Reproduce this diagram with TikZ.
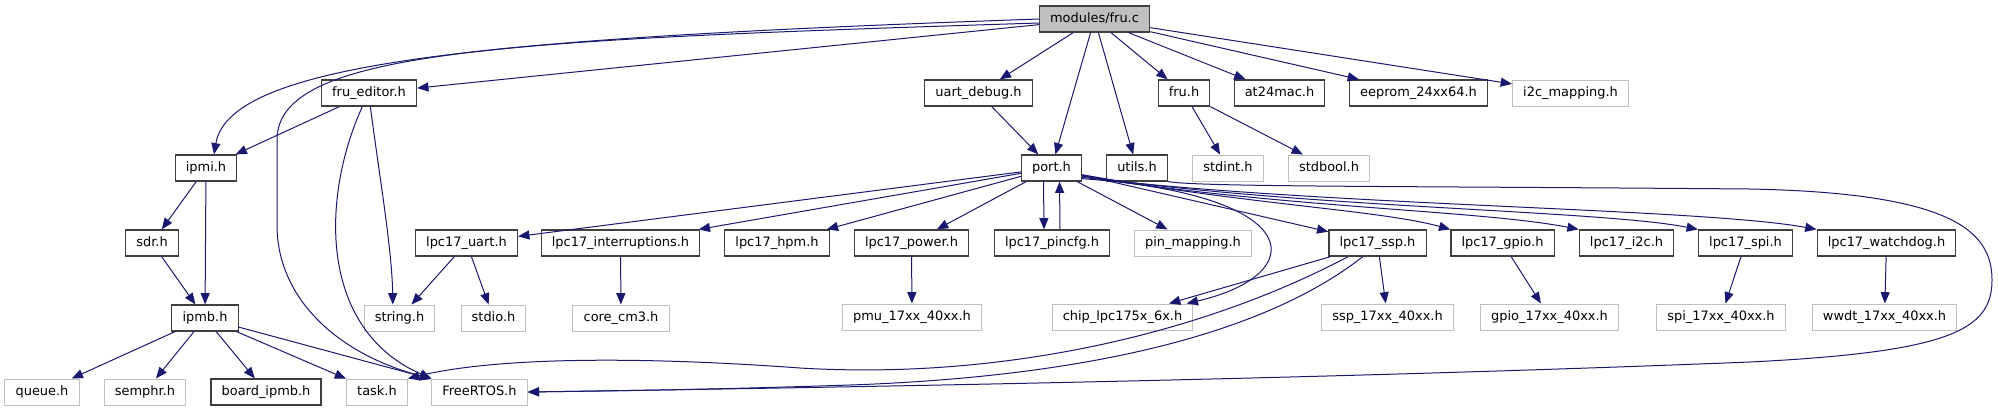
\documentclass[tikz,border=0pt]{standalone}
\usepackage{fontspec}
\setmainfont{DejaVu Sans}
\usepackage{xcolor}
\usepackage{tikz}
\definecolor{depblue}{HTML}{191970}
\definecolor{sysgray}{HTML}{BFBFBF}
\definecolor{hdrdark}{HTML}{404040}
\usetikzlibrary{arrows.meta}

\begin{document}
\begin{tikzpicture}[x=0.75pt, y=-0.75pt,
    every node/.style={font=\fontsize{9.7}{11}\selectfont, minimum height=19.5pt,
      inner xsep=8pt, inner ysep=0pt, text height=7.2pt, text depth=2pt, fill=white},
    hdrbox/.style={draw=hdrdark, line width=0.9pt},
    sysbox/.style={draw=sysgray, line width=0.75pt},
    srcbox/.style={draw=hdrdark, fill=sysgray, line width=0.9pt},
    dep/.style={-{Triangle[length=8.5pt,width=6.8pt]}, depblue, line width=0.75pt}]
    \useasboundingbox (0,0) rectangle (1998,411);
    % row 1: the source file
    \node[srcbox] (fruc) at (1094.5,19) {modules/fru.c};
    % row 2
    \node[hdrbox] (fruEditor) at (369,93) {fru\_editor.h};
    \node[hdrbox] (uartDebug) at (978.5,93) {uart\_debug.h};
    \node[hdrbox] (fruH) at (1184,93) {fru.h};
    \node[hdrbox] (at24mac) at (1279.5,93) {at24mac.h};
    \node[hdrbox] (eeprom) at (1418.5,93) {eeprom\_24xx64.h};
    \node[sysbox] (i2cMap) at (1570.5,93) {i2c\_mapping.h};
    % row 3
    \node[hdrbox] (ipmiH) at (206,168) {ipmi.h};
    \node[hdrbox] (portH) at (1051.5,168) {port.h};
    \node[hdrbox] (utilsH) at (1137,168) {utils.h};
    \node[sysbox] (stdintH) at (1228,168) {stdint.h};
    \node[sysbox] (stdboolH) at (1329,168) {stdbool.h};
    % row 4: lpc17 drivers
    \node[hdrbox] (sdrH) at (152,243) {sdr.h};
    \node[hdrbox] (lpcUart) at (466.5,243) {lpc17\_uart.h};
    \node[hdrbox] (lpcIrq) at (620.5,243) {lpc17\_interruptions.h};
    \node[hdrbox] (lpcHpm) at (777,243) {lpc17\_hpm.h};
    \node[hdrbox] (lpcPower) at (911.5,243) {lpc17\_power.h};
    \node[hdrbox] (lpcPincfg) at (1052,243) {lpc17\_pincfg.h};
    \node[sysbox] (pinMap) at (1193,243) {pin\_mapping.h};
    \node[hdrbox] (lpcSsp) at (1377.5,243) {lpc17\_ssp.h};
    \node[hdrbox] (lpcGpio) at (1502.5,243) {lpc17\_gpio.h};
    \node[hdrbox] (lpcI2c) at (1626.5,243) {lpc17\_i2c.h};
    \node[hdrbox] (lpcSpi) at (1745.5,243) {lpc17\_spi.h};
    \node[hdrbox] (lpcWdt) at (1886.5,243) {lpc17\_watchdog.h};
    % row 5
    \node[hdrbox] (ipmbH) at (205,318) {ipmb.h};
    \node[sysbox] (stringH) at (399.5,318) {string.h};
    \node[sysbox] (stdioH) at (493.5,318) {stdio.h};
    \node[sysbox] (coreCm3) at (621,318) {core\_cm3.h};
    \node[sysbox] (pmu) at (912,317) {pmu\_17xx\_40xx.h};
    \node[sysbox] (chip) at (1122.5,317) {chip\_lpc175x\_6x.h};
    \node[sysbox] (sspLow) at (1387.5,317) {ssp\_17xx\_40xx.h};
    \node[sysbox] (gpioLow) at (1549.5,317) {gpio\_17xx\_40xx.h};
    \node[sysbox] (spiLow) at (1721,317) {spi\_17xx\_40xx.h};
    \node[sysbox] (wwdt) at (1884.5,317) {wwdt\_17xx\_40xx.h};
    % row 6
    \node[sysbox] (queueH) at (42,392) {queue.h};
    \node[sysbox] (semphrH) at (145,392) {semphr.h};
    \node[hdrbox] (boardIpmb) at (266,392) {board\_ipmb.h};
    \node[sysbox] (taskH) at (377,392) {task.h};
    \node[sysbox] (freertos) at (479.5,392) {FreeRTOS.h};

    % modules/fru.c includes
    \draw[dep] (fruc.west) .. controls (500,38) and (230,60) .. ([xshift=6pt]ipmiH.north);
    \draw[dep] ([yshift=-3pt]fruc.west) .. controls (500,40) and (277,50) .. (277,140)
      -- (277,225) .. controls (277,300) and (340,355) .. (freertos.north west);
    \draw[dep] (fruc) -- (fruEditor);
    \draw[dep] (fruc) -- (uartDebug);
    \draw[dep] (fruc) -- (portH);
    \draw[dep] (fruc) -- (utilsH);
    \draw[dep] (fruc) -- (fruH);
    \draw[dep] (fruc) -- (at24mac);
    \draw[dep] (fruc) -- (eeprom);
    \draw[dep] (fruc) -- (i2cMap);
    % fru_editor.h
    \draw[dep] (fruEditor) -- (ipmiH);
    \draw[dep] ([xshift=-5pt]fruEditor.south) .. controls (320,200) and (320,330) .. (freertos.north west);
    \draw[dep] ([xshift=1pt]fruEditor.south) .. controls (380,180) and (392,250) .. ([xshift=-5pt]stringH.north);
    % ipmi side
    \draw[dep] (ipmiH) -- (sdrH);
    \draw[dep] (ipmiH) -- (ipmbH);
    \draw[dep] (sdrH) -- (ipmbH);
    \draw[dep] (ipmbH) -- (queueH);
    \draw[dep] (ipmbH) -- (semphrH);
    \draw[dep] (ipmbH) -- (boardIpmb);
    \draw[dep] (ipmbH) -- (taskH);
    \draw[dep] (ipmbH) -- (freertos);
    % uart_debug.h, fru.h
    \draw[dep] (uartDebug) -- (portH);
    \draw[dep] (fruH) -- (stdintH);
    \draw[dep] (fruH) -- (stdboolH);
    % utils.h goes round the right side down to FreeRTOS.h
    \draw[dep] (utilsH.south east) .. controls (1200,187) and (1400,186) .. (1750,189)
      .. controls (1950,193) and (1992,230) .. (1992,280)
      .. controls (1992,330) and (1950,352) .. (1750,362)
      .. controls (1300,380) and (800,388) .. (freertos.east);
    % port.h
    \draw[dep] (portH) -- (lpcUart);
    \draw[dep] (portH) -- (lpcIrq);
    \draw[dep] (portH) -- (lpcHpm);
    \draw[dep] (portH) -- (lpcPower);
    \draw[dep] ([xshift=-6pt]portH.south) -- ([xshift=-6pt]lpcPincfg.north);
    \draw[dep] ([xshift=6pt]lpcPincfg.north) -- ([xshift=6pt]portH.south);
    \draw[dep] (portH) -- (pinMap);
    \draw[dep] (portH) -- (lpcSsp);
    \draw[dep] ([yshift=-5pt]portH.east) .. controls (1250,205) and (1380,210) .. (lpcGpio.north west);
    \draw[dep] ([yshift=-6pt]portH.east) .. controls (1280,208) and (1480,210) .. (lpcI2c.north west);
    \draw[dep] ([yshift=-6pt]portH.east) .. controls (1300,208) and (1600,210) .. (lpcSpi.north west);
    \draw[dep] ([yshift=-7pt]portH.east) .. controls (1320,206) and (1700,208) .. (lpcWdt.north west);
    \draw[dep] ([yshift=-8pt]portH.east) .. controls (1310,195) and (1310,275) .. ([xshift=-5pt]chip.north east);
    % drivers to low level headers
    \draw[dep] (lpcUart) -- (stringH);
    \draw[dep] (lpcUart) -- (stdioH);
    \draw[dep] (lpcIrq) -- (coreCm3);
    \draw[dep] (lpcPower) -- (pmu);
    \draw[dep] (lpcSsp) -- (chip);
    \draw[dep] (lpcSsp) -- (sspLow);
    \draw[dep] (lpcGpio) -- (gpioLow);
    \draw[dep] (lpcSpi) -- (spiLow);
    \draw[dep] (lpcWdt) -- (wwdt);
    % lpc17_ssp.h back to the RTOS headers
    \draw[dep] ([xshift=-22pt]lpcSsp.south) .. controls (1200,335) and (1000,380) .. (800,368)
      .. controls (650,357) and (500,356) .. (taskH.north east);
    \draw[dep] ([xshift=-11pt]lpcSsp.south) .. controls (1250,345) and (1050,378) .. (850,385)
      .. controls (700,390) and (600,391) .. (freertos.east);
\end{tikzpicture}
\end{document}
